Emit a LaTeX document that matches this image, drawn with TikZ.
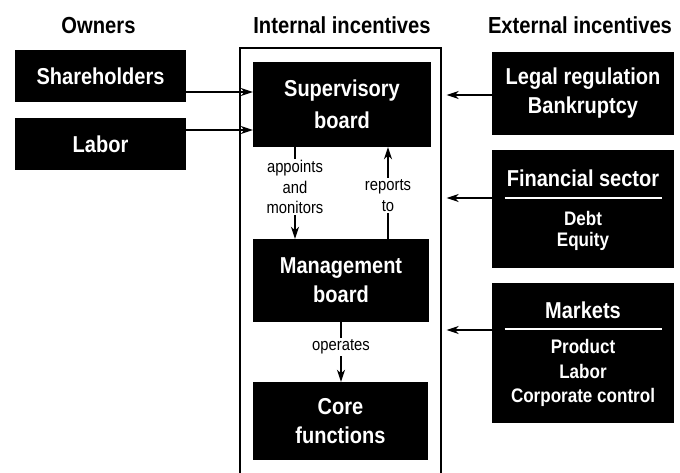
\documentclass[tikz,border=0pt]{standalone}
\usepackage{fontspec}
\setmainfont{Liberation Sans}[FakeStretch=0.87]
\usetikzlibrary{arrows.meta}

% font settings
\newcommand\dgHead{\bfseries\fontsize{23.2}{29}\selectfont}
\newcommand\dgBox{\bfseries\fontsize{23}{29}\selectfont}
\newcommand\dgBoxWide{\bfseries\fontsize{23}{32}\selectfont}
\newcommand\dgItem{\bfseries\fontsize{19.6}{24}\selectfont}
\newcommand\dgLabel{\mdseries\fontsize{17}{20.5}\selectfont}

\begin{document}
\begin{tikzpicture}[x=1pt,y=-1pt,
  blk/.style={fill=black, text=white, inner sep=0pt, align=center, font=\dgBox},
  head/.style={anchor=base, font=\dgHead},
  title/.style={text=white, anchor=base, font=\dgBox},
  item/.style={text=white, anchor=base, font=\dgItem},
  lbl/.style={fill=white, inner sep=1.5pt, align=center, font=\dgLabel},
  arr/.style={line width=1.3pt, -{Stealth[length=12pt,width=8pt,inset=3.5pt]}},
  rulew/.style={draw=white, line width=1.4pt},
]
\useasboundingbox (0,0) rectangle (680,472);
\clip (0,0) rectangle (680,472);

% column headings
\node[head] (hown) at (98.5,33) {Owners};
\node[head] (hint) at (342,33) {Internal incentives};
\node[head] (hext) at (580,33) {External incentives};

% frame around the internal column (runs off the bottom)
\node[draw, line width=1.3pt, minimum width=201, minimum height=442, inner sep=0pt]
  (internal) at (340.5,269) {};

% owners
\node[blk, minimum width=171, minimum height=52] (sh)  at (100.5,76)  {Shareholders};
\node[blk, minimum width=171, minimum height=52] (lab) at (100.5,144) {Labor};

% internal boards
\node[blk, font=\dgBoxWide, minimum width=178, minimum height=85] (sup)  at (342,104.5) {Supervisory\\board};
\node[blk, minimum width=176, minimum height=83] (mgmt) at (341,280.5) {Management\\board};
\node[blk, minimum width=175, minimum height=78] (core) at (340.5,421) {Core\\functions};

% external incentives
\node[blk, minimum width=182, minimum height=83] (legal) at (583,93.5) {Legal regulation\\Bankruptcy};

\node[blk, minimum width=182, minimum height=118] (fin) at (583,209) {};
\node[title] (fint) at (583,186) {Financial sector};
\coordinate (finr) at (583,198);
\draw[rulew] ([xshift=-78.5pt]finr) -- ([xshift=78.5pt]finr);
\node[item] (debt)   at (583,225) {Debt};
\node[item] (equity) at (583,246) {Equity};

\node[blk, minimum width=182, minimum height=140] (mkt) at (583,353) {};
\node[title] (mktt) at (583,318) {Markets};
\coordinate (mktr) at (583,329);
\draw[rulew] ([xshift=-78.5pt]mktr) -- ([xshift=78.5pt]mktr);
\node[item] (prod) at (583,353) {Product};
\node[item] (labm) at (583,378) {Labor};
\node[item] (corp) at (583,402) {Corporate control};

% owners feed the supervisory board
\draw[arr] ([yshift=-16pt]sh.east) -- ([yshift=-16pt]sh.east -| sup.west);
\draw[arr] ([yshift=14pt]lab.east) -- ([yshift=14pt]lab.east -| sup.west);

% external incentives act on the internal column
\draw[arr, shorten >=5pt] ([yshift=-1.5pt]legal.west) -- ([yshift=-1.5pt]legal.west -| internal.east);
\draw[arr, shorten >=5pt] (fin.west |- finr) -- (internal.east |- finr);
\draw[arr, shorten >=5pt] ([yshift=-1pt]mkt.west |- mktr) -- ([yshift=-1pt]internal.east |- mktr);

% relations between the boards
\draw[arr] ([xshift=-47pt]sup.south) -- ([xshift=-47pt]sup.south |- mgmt.north)
  node[lbl, pos=0.435] (appt) {appoints\\and\\monitors};
\draw[arr] ([xshift=47pt]mgmt.north) -- ([xshift=47pt]mgmt.north |- sup.south)
  node[lbl, pos=0.47] (rep) {reports\\to};
\draw[arr] (mgmt.south) -- (mgmt.south |- core.north)
  node[lbl, pos=0.42] (oper) {operates};
\end{tikzpicture}
\end{document}
